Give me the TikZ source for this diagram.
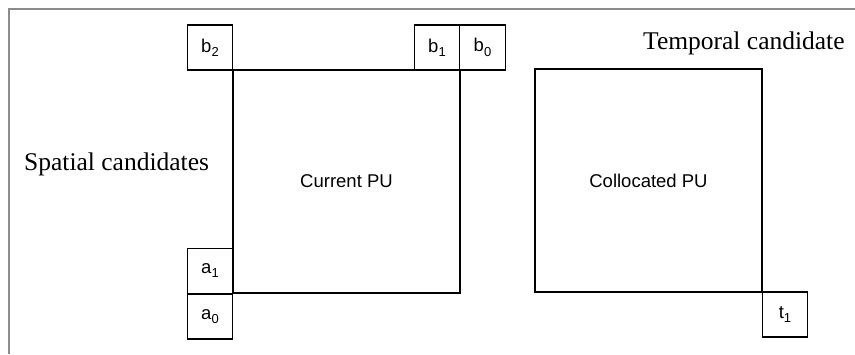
\documentclass[tikz,border=0pt]{standalone}
\usepackage{fontspec}
\newfontfamily\arialf{Liberation Sans}
\newfontfamily\seriff{Liberation Serif}
\newcommand\sbs[1]{\raisebox{-0.45ex}{\fontsize{13}{13}\selectfont #1}}
\begin{document}
\begin{tikzpicture}[x=1pt,y=-1pt,
  cand/.style={draw=black, line width=1.4pt, minimum width=45.5pt, minimum height=45pt, inner sep=0pt, font=\arialf\fontsize{18.5}{18.5}\selectfont},
  pu/.style={draw=black, line width=1.4pt, minimum width=227pt, minimum height=223pt, inner sep=0pt, font=\arialf\fontsize{18.5}{18.5}\selectfont},
  title/.style={font=\seriff\fontsize{25.5}{25.5}\selectfont, anchor=base west, inner sep=0pt},
  frame/.style={draw=black!45, line width=2pt}]
\useasboundingbox (0,0) rectangle (855,354);
\coordinate (fbl) at (8.5,354);
\coordinate (ftl) at (8.5,8.5);
\coordinate (ftr) at (855,8.5);
\draw[frame] (fbl) -- (ftl) -- (ftr);
\node[pu] (cur) at (346.5,181.5) {Current PU};
\node[pu] (col) at (648.5,180.5) {Collocated PU};
\node[cand] (b2) at (210,47.5) {b\sbs{2}};
\node[cand] (b1) at (437,47.5) {b\sbs{1}};
\node[cand] (b0) at (482.5,47.5) {b\sbs{0}};
\node[cand] (a1) at (210,270.8) {a\sbs{1}};
\node[cand] (a0) at (210,316.3) {a\sbs{0}};
\node[cand] (t1) at (785,314.5) {t\sbs{1}};
\node[title] (sp) at (24,170) {Spatial candidates};
\node[title] (tp) at (643,49) {Temporal candidate};
\end{tikzpicture}
\end{document}
